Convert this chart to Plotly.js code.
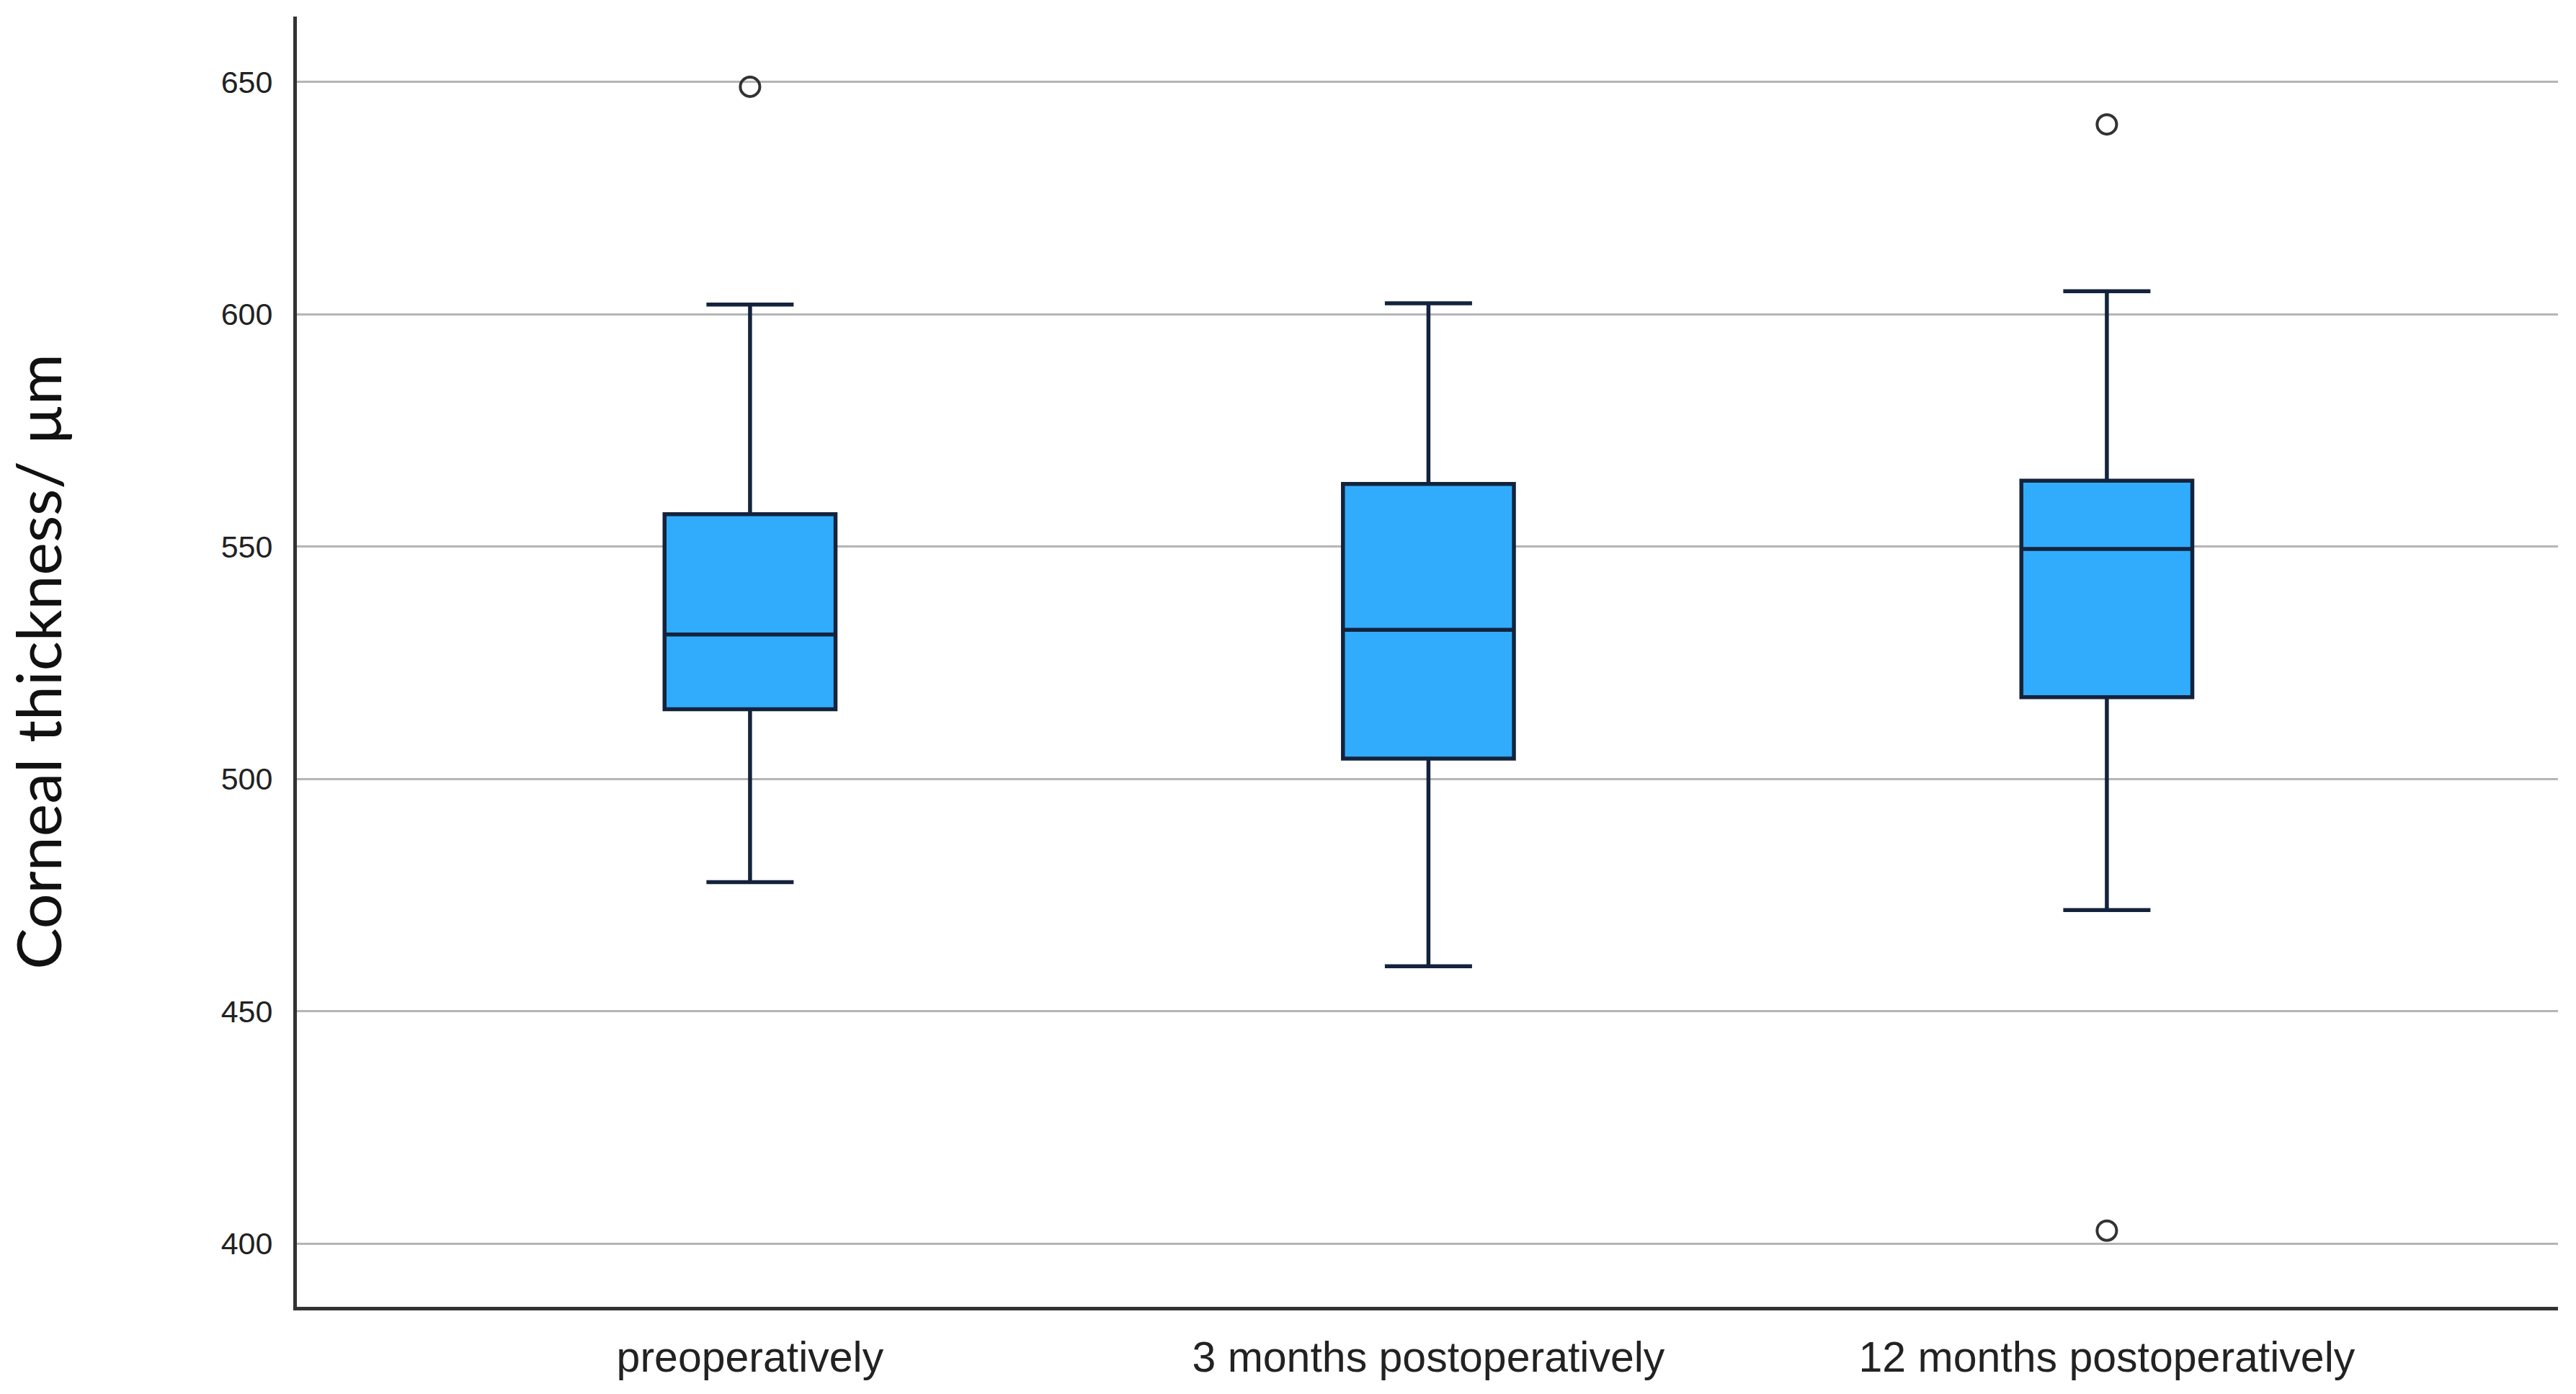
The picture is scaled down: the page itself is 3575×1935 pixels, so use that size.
<!DOCTYPE html>
<html>
<head>
<meta charset="utf-8">
<script src="https://cdn.plot.ly/plotly-3.0.1.min.js"></script>
<style>
  html, body { margin: 0; padding: 0; background: #ffffff; }
  #chart { width: 3575px; height: 1935px; }
</style>
</head>
<body>
<div id="chart"></div>
<script>
// ---- Data ----
const categories = ['preoperatively', '3 months postoperatively', '12 months postoperatively'];
const q1Values = [515.0, 504.4, 517.6];
const medianValues = [531.1, 532.1, 549.5];
const q3Values = [557.0, 563.5, 564.2];
const lowerWhiskers = [477.8, 459.7, 471.8];
const upperWhiskers = [602.1, 602.4, 605.0];
const outlierCategories = ['preoperatively', '12 months postoperatively', '12 months postoperatively'];
const outlierValues = [649.0, 640.9, 402.8];
const yTickValues = [400, 450, 500, 550, 600, 650];
const yTitle = 'Corneal thickness/ µm';

// ---- Traces ----
const boxTrace = {
  type: 'box',
  x: categories,
  q1: q1Values,
  median: medianValues,
  q3: q3Values,
  lowerfence: lowerWhiskers,
  upperfence: upperWhiskers,
  boxpoints: false,
  width: 0.252,
  whiskerwidth: 0.51,
  fillcolor: '#31acfc',
  line: { color: '#14233c', width: 5.5 },
  showlegend: false,
  hoverinfo: 'y'
};

const outlierTrace = {
  type: 'scatter',
  mode: 'markers',
  x: outlierCategories,
  y: outlierValues,
  marker: {
    symbol: 'circle-open',
    size: 27,
    color: '#333333',
    line: { color: '#333333', width: 4 }
  },
  showlegend: false,
  hoverinfo: 'y'
};

const layout = {
  width: 3575,
  height: 1935,
  paper_bgcolor: '#ffffff',
  plot_bgcolor: '#ffffff',
  margin: { l: 412, r: 25, t: 23, b: 121, pad: 0 },
  showlegend: false,
  font: { family: 'Liberation Sans, Arial, sans-serif', color: '#222222' },
  xaxis: {
    type: 'category',
    categoryorder: 'array',
    categoryarray: categories,
    range: [-0.668, 2.665],
    showgrid: false,
    zeroline: false,
    showline: true,
    linecolor: '#333333',
    linewidth: 5,
    ticks: '',
    ticklabelstandoff: 14,
    tickfont: { family: 'Liberation Sans, Arial, sans-serif', size: 59, color: '#222222' }
  },
  yaxis: {
    range: [386.4, 664.1],
    tickmode: 'array',
    tickvals: yTickValues,
    ticktext: yTickValues.map(String),
    showgrid: true,
    gridcolor: '#b5b5b5',
    gridwidth: 3,
    zeroline: false,
    showline: true,
    linecolor: '#333333',
    linewidth: 5,
    ticks: '',
    ticklabelstandoff: 20,
    tickfont: { family: 'Liberation Sans, Arial, sans-serif', size: 43, color: '#222222' },
    title: {
      text: yTitle,
      standoff: 210,
      font: { family: 'Lato, Noto Sans, sans-serif', size: 86, color: '#111111' }
    }
  }
};

Plotly.newPlot('chart', [boxTrace, outlierTrace], layout, { displayModeBar: false, staticPlot: true });
</script>
</body>
</html>
